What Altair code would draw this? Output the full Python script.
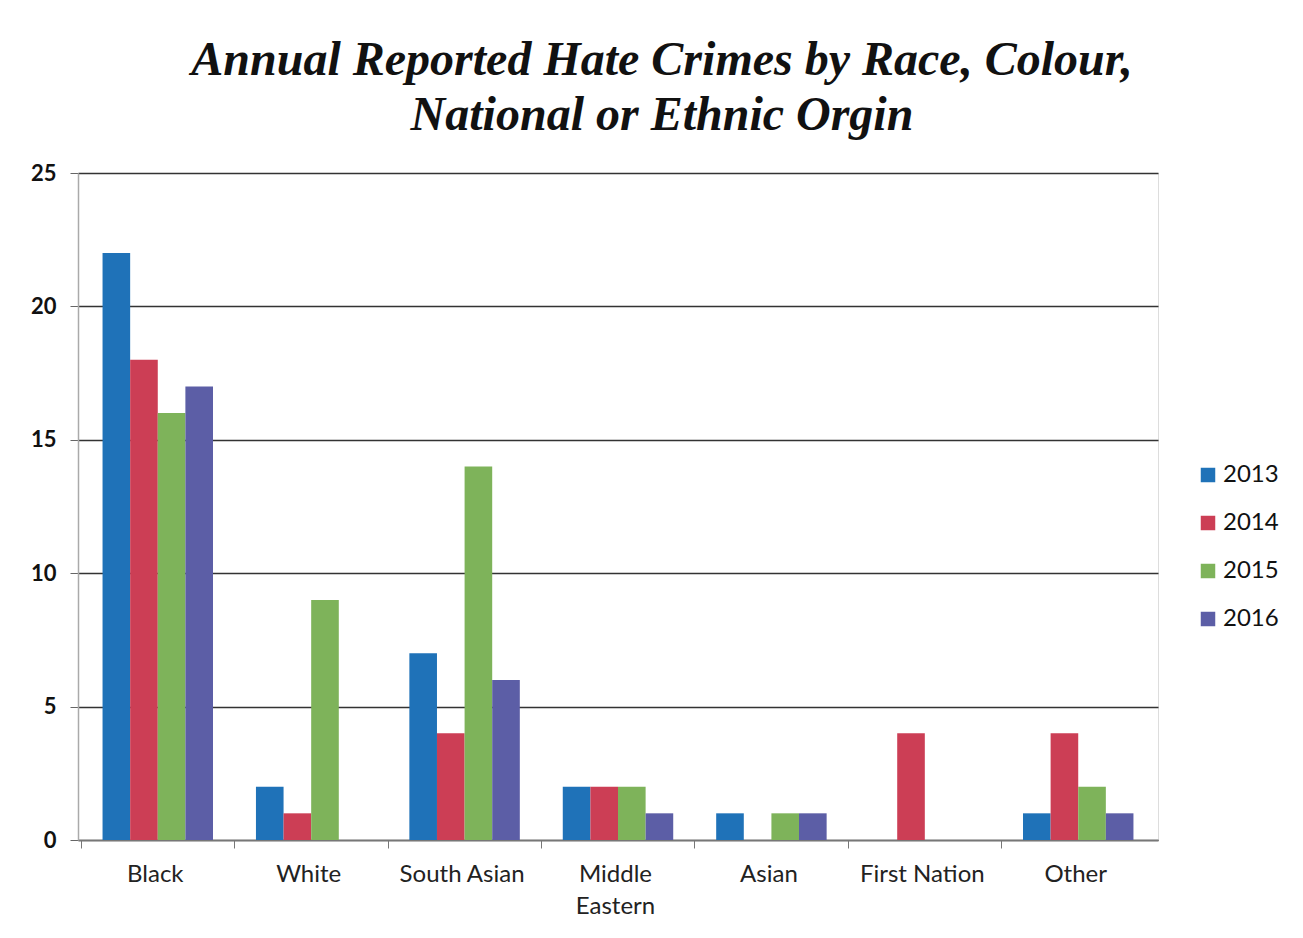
import altair as alt
import pandas as pd

categories = ["Black", "White", "South Asian", "Middle Eastern", "Asian", "First Nation", "Other"]
years = ["2013", "2014", "2015", "2016"]
v2013 = [22, 2, 7, 2, 1, 0, 1]
v2014 = [18, 1, 4, 2, 0, 4, 4]
v2015 = [16, 9, 14, 2, 1, 0, 2]
v2016 = [17, 0, 6, 1, 1, 0, 1]
colors = ["#1f72b8", "#cc3e55", "#7eb35a", "#5c5ea6"]

rows = []
for yr, vals in zip(years, [v2013, v2014, v2015, v2016]):
    for c, v in zip(categories, vals):
        rows.append({"category": c, "year": yr, "value": v})
df = pd.DataFrame(rows)

chart = alt.Chart(df).mark_bar().encode(
    x=alt.X("category:N", sort=categories,
            scale=alt.Scale(paddingInner=0.28, paddingOuter=0.16),
            axis=alt.Axis(title=None, labelAngle=0, labelFont="Lato", labelFontSize=24,
                          labelColor="#222", labelPadding=14, domainColor="#777",
                          domainWidth=1.5, tickColor="#777", tickSize=8,
                          tickOffset=-77, labelOffset=74, grid=False,
                          labelExpr="datum.label == 'Middle Eastern' ? ['Middle', 'Eastern'] : datum.label",
                          labelLineHeight=32)),
    xOffset=alt.XOffset("year:N", sort=years),
    y=alt.Y("value:Q", scale=alt.Scale(domain=[0, 25]),
            axis=alt.Axis(title=None, values=[0, 5, 10, 15, 20, 25], labelFont="Lato",
                          labelFontSize=22, labelFontWeight="bold", labelColor="#111",
                          labelPadding=14, tickSize=8, tickColor="#666",
                          domainColor="#aaa", domainWidth=1.5,
                          grid=True, gridColor="#333", gridWidth=1.6)),
    color=alt.Color("year:N", sort=years, scale=alt.Scale(domain=years, range=colors),
                    legend=alt.Legend(title=None, orient="none", legendX=1118, legendY=290,
                                      symbolType="square", symbolSize=210,
                                      symbolStrokeWidth=0, labelFont="Lato",
                                      labelFontSize=24, labelColor="#111",
                                      rowPadding=24, labelOffset=3)),
).properties(
    width=1080, height=667,
    title=alt.Title(["Annual Reported Hate Crimes by Race, Colour,", "National or Ethnic Orgin"],
                    font="Liberation Serif", fontSize=48, fontStyle="italic",
                    fontWeight="bold", color="#111", lineHeight=55, offset=22,
                    dx=44, anchor="middle"),
    autosize=alt.AutoSizeParams(type="none"),
    padding={"left": 78, "top": 173, "right": 145, "bottom": 98},
).configure_view(stroke=None).configure(background="white")

chart.save("out.html", embed_options={"renderer": "svg", "actions": False})
